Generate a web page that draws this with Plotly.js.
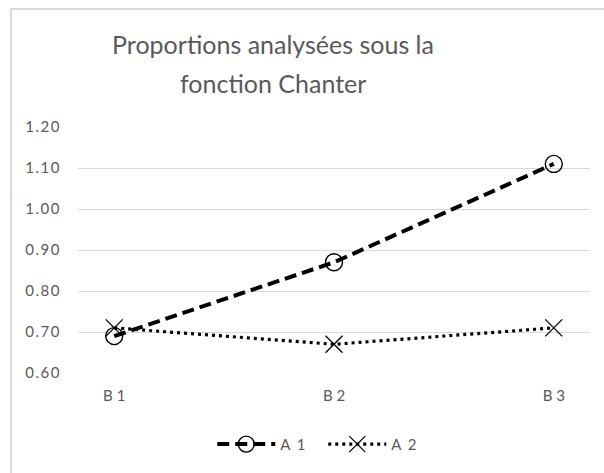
<!DOCTYPE html>
<html>
<head>
<meta charset="utf-8">
<script src="https://cdn.plot.ly/plotly-3.0.1.min.js"></script>
<style>
  html, body { margin: 0; padding: 0; background: #fff; }
  #wrap { position: relative; width: 604px; height: 473px; overflow: hidden; }
  #frame { position: absolute; left: 10px; top: 8px; width: 700px; height: 600px;
           border-left: 2px solid #d9d9d9; border-top: 2px solid #d9d9d9; box-sizing: border-box; }
  #chart { position: absolute; left: 0; top: 0; width: 604px; height: 473px; }
  .ytick text, .legendtext { letter-spacing: 1.5px; }
</style>
</head>
<body>
<div id="wrap">
  <div id="frame"></div>
  <div id="chart"></div>
</div>
<script>
const categories = ['B 1', 'B 2', 'B 3'];
const seriesA1 = [0.69, 0.87, 1.11];
const seriesA2 = [0.71, 0.67, 0.71];
const seriesNames = ['A 1', 'A 2'];
const yTickVals = [0.60, 0.70, 0.80, 0.90, 1.00, 1.10, 1.20];
const yTickText = ['0.60', '0.70', '0.80', '0.90', '1.00', '1.10', '1.20'];
const titleLine1 = 'Proportions analysées sous la';
const titleLine2 = 'fonction Chanter';

const traces = [
  {
    x: categories, y: seriesA1, name: seriesNames[0], type: 'scatter', mode: 'lines+markers',
    line: { color: '#000000', width: 4, dash: '12px,6px' },
    marker: { symbol: 'circle-open', size: 17, color: '#000000', line: { width: 1.4, color: '#000000' } }
  },
  {
    x: categories, y: seriesA2, name: seriesNames[1], type: 'scatter', mode: 'lines+markers',
    line: { color: '#000000', width: 3.2, dash: '3px,4px' },
    marker: { symbol: 'x-thin-open', size: 17, color: '#000000', line: { width: 1.3, color: '#000000' } }
  }
];

const titleFont = { size: 25, color: '#595959', family: 'Lato, "Open Sans", sans-serif' };

const layout = {
  width: 604, height: 473,
  paper_bgcolor: 'rgba(0,0,0,0)', plot_bgcolor: 'rgba(0,0,0,0)',
  margin: { l: 77.5, r: 13.5, t: 127, b: 100 },
  font: { family: 'Lato, "Open Sans", sans-serif', color: '#595959', size: 15 },
  title: {
    text: titleLine1, xref: 'container', yref: 'container',
    x: 0.452, xanchor: 'center', y: 1 - 45 / 473, yanchor: 'middle',
    font: titleFont
  },
  annotations: [{
    text: titleLine2, xref: 'paper', yref: 'paper',
    x: (273 - 77.5) / 513, xanchor: 'center',
    y: (373 - 83) / 246, yanchor: 'middle',
    showarrow: false, font: titleFont
  }],
  xaxis: {
    type: 'category', showgrid: false, zeroline: false,
    showline: false, ticks: '', ticklabelstandoff: 12,
    tickfont: { size: 15, color: '#595959' }
  },
  yaxis: {
    range: [0.6, 1.2], tickvals: yTickVals, ticktext: yTickText,
    showgrid: true, gridcolor: '#d9d9d9', gridwidth: 1, zeroline: false, showline: false,
    ticks: '', ticklabelstandoff: 16, tickfont: { size: 15, color: '#595959' }
  },
  showlegend: true,
  legend: {
    orientation: 'h', x: 0.479, xanchor: 'center', y: -0.29, yanchor: 'middle',
    itemwidth: 58, entrywidth: 38, font: { size: 15, color: '#595959' }, bgcolor: 'rgba(0,0,0,0)'
  }
};

Plotly.newPlot('chart', traces, layout, { staticPlot: true, displayModeBar: false });
</script>
</body>
</html>
